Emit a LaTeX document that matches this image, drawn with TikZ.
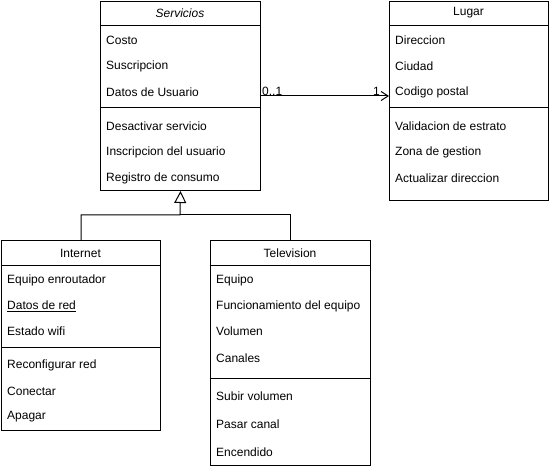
\documentclass[tikz,border=0pt]{standalone}
\usepackage{fontspec}
\setmainfont{Liberation Sans}
\usetikzlibrary{arrows.meta}
\begin{document}
\begin{tikzpicture}[x=1pt,y=-1pt,
  classbox/.style={draw, line width=1pt, inner sep=0pt, anchor=north west},
  attr/.style={anchor=west, inner sep=0pt, font=\fontsize{12}{14}\selectfont},
  ttl/.style={anchor=center, inner sep=0pt, font=\fontsize{12}{14}\selectfont},
  sep/.style={line width=1pt},
  mult/.style={inner sep=0pt, font=\fontsize{12}{14}\selectfont},
  assoc/.style={line width=1pt, -{Straight Barb[length=7pt,width=9pt]}},
  inh/.style={line width=1pt, -{Triangle[open,length=12pt,width=12pt]}}]
\useasboundingbox (0,0) rectangle (549,470);

% Servicios
\node[classbox, minimum width=160pt, minimum height=189pt] (serv) at (100,1) {};
\node[ttl] (servt) at (180,13) {\itshape Servicios};
\draw[sep] (100,26) -- (260,26);
\draw[sep] (100,108) -- (260,108);
\node[attr] (s1) at (106,40) {Costo};
\node[attr] (s2) at (106,66) {Suscripcion};
\node[attr] (s3) at (106,92) {Datos de Usuario};
\node[attr] (s4) at (106,126) {Desactivar servicio};
\node[attr] (s5) at (106,152) {Inscripcion del usuario};
\node[attr] (s6) at (106,178) {Registro de consumo};

% Lugar
\node[classbox, minimum width=159pt, minimum height=199pt] (lug) at (389,1) {};
\node[ttl] (lugt) at (468.5,13) {Lugar};
\draw[sep] (389,26) -- (548,26);
\draw[sep] (389,108) -- (548,108);
\node[attr] (l1) at (395,40) {Direccion};
\node[attr] (l2) at (395,66) {Ciudad};
\node[attr] (l3) at (395,92) {Codigo postal};
\node[attr] (l4) at (395,126) {Validacion de estrato};
\node[attr] (l5) at (395,152) {Zona de gestion};
\node[attr] (l6) at (395,178) {Actualizar direccion};

% Internet
\node[classbox, minimum width=159pt, minimum height=190pt] (inet) at (1,240) {};
\node[ttl] (inett) at (80.5,253) {Internet};
\draw[sep] (1,266) -- (160,266);
\draw[sep] (1,348) -- (160,348);
\node[attr] (i1) at (7,280) {Equipo enroutador};
\node[attr] (i2) at (7,306) {\underline{Datos de red}};
\node[attr] (i3) at (7,331) {Estado wifi};
\node[attr] (i4) at (7,365) {Reconfigurar red};
\node[attr] (i5) at (7,391) {Conectar};
\node[attr] (i6) at (7,417) {Apagar};

% Television
\node[classbox, minimum width=160pt, minimum height=225pt] (tv) at (210,240) {};
\node[ttl] (tvt) at (290,253) {Television};
\draw[sep] (210,266) -- (370,266);
\draw[sep] (210,378) -- (370,378);
\node[attr] (t1) at (216,280) {Equipo};
\node[attr] (t2) at (216,306) {Funcionamiento del equipo};
\node[attr] (t3) at (216,331) {Volumen};
\node[attr] (t4) at (216,358) {Canales};
\node[attr] (t5) at (216,396) {Subir volumen};
\node[attr] (t6) at (216,424) {Pasar canal};
\node[attr] (t7) at (216,452) {Encendido};

% Association
\coordinate (ay) at (0,96);
\draw[assoc] (serv.east |- ay) -- (lug.west |- ay);
\node[mult, anchor=base west] (m1) at (262,96) {0..1};
\node[mult, anchor=base east] (m2) at (380,96) {1};

% Generalization
\coordinate (j) at (180,215);
\draw[inh] (inet.north) |- (j) -- (serv.south);
\draw[line width=1pt] (tv.north) |- (j);
\end{tikzpicture}
\end{document}
